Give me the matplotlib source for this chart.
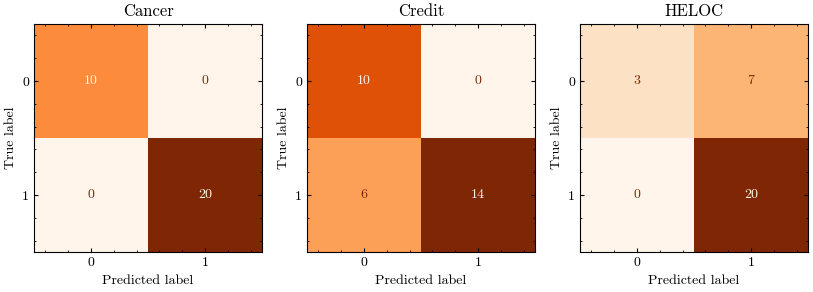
import numpy as np
import matplotlib.pyplot as plt
from matplotlib.ticker import AutoMinorLocator

plt.rcParams['font.family'] = ['cmr10', 'DejaVu Serif']
plt.rcParams['mathtext.fontset'] = 'cm'
plt.rcParams['axes.formatter.use_mathtext'] = True
plt.rcParams['font.size'] = 10

titles = ["Cancer", "Credit", "HELOC"]
cancer = [[10, 0], [0, 20]]
credit = [[10, 0], [6, 14]]
heloc = [[3, 7], [0, 20]]
class_labels = ["0", "1"]

matrices = [cancer, credit, heloc]
lefts = [34, 307, 580]

fig = plt.figure(figsize=(8.13, 2.92), dpi=100)
cmap = plt.get_cmap("Oranges")

for title, m, left in zip(titles, matrices, lefts):
    m = np.array(m)
    ax = fig.add_axes([left / 813, 40 / 292, 228 / 813, 228 / 292])
    ax.imshow(m, cmap=cmap, interpolation="nearest")
    thresh = (m.max() + m.min()) / 2.0
    for r in range(m.shape[0]):
        for c in range(m.shape[1]):
            color = cmap(1.0) if m[r, c] < thresh else cmap(0.0)
            ax.text(c, r, str(m[r, c]), ha="center", va="center", color=color)
    ax.set_xticks(range(len(class_labels)))
    ax.set_yticks(range(len(class_labels)))
    ax.set_xticklabels(class_labels)
    ax.set_yticklabels(class_labels)
    ax.set_xlabel("Predicted label")
    ax.set_ylabel("True label")
    ax.set_title(title)
    ax.xaxis.set_minor_locator(AutoMinorLocator(5))
    ax.yaxis.set_minor_locator(AutoMinorLocator(5))
    ax.tick_params(which="both", direction="in", top=True, right=True)
    ax.tick_params(which="major", length=3)
    ax.tick_params(which="minor", length=1.5)

fig.savefig("out.png", dpi=100)
